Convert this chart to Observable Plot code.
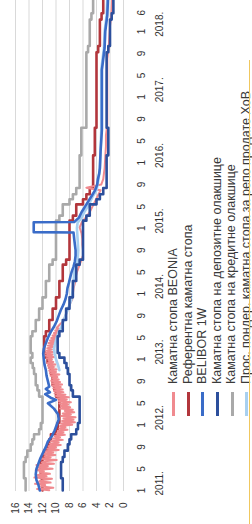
<!DOCTYPE html>
<html>
<head>
<meta charset="utf-8">
<script src="https://cdn.jsdelivr.net/npm/d3@7"></script>
<script src="https://cdn.jsdelivr.net/npm/@observablehq/plot@0.6"></script>
<style>
  html, body { margin: 0; padding: 0; background: #fff; overflow: hidden; }
  body { width: 252px; height: 524px; position: relative; }
  #wrap { position: absolute; left: 0; top: 0; width: 524px; height: 252px;
          transform-origin: 0 0; transform: translate(0px, 524px) rotate(-90deg);
          font-family: "Liberation Sans", Arial, sans-serif; }
  #legend { position: absolute; left: 0; top: 166px; width: 524px; }
  .row { height: 14.6px; line-height: 14.6px; white-space: nowrap; font-size: 12.5px; color: #3a3a3a; }
  .sw { display: inline-block; width: 24px; height: 3px; margin-left: 108px; margin-right: 8px; vertical-align: middle; }
  #edge { position: absolute; left: 0; top: 248.5px; width: 464px; height: 1.5px; background: #f0c75e; }
</style>
</head>
<body>
<div id="wrap"><div id="chart"></div><div id="legend"></div><div id="edge"></div></div>
<script>
// ---- data ----
const seriesNames = [
  "Каматна стопа BEONIA",
  "Референтна каматна стопа",
  "BELIBOR 1W",
  "Каматна стопа на депозитне олакшице",
  "Каматна стопа на кредитне олакшице",
  "Прос. пондер. каматна стопа за репо продате ХоВ"
];
const seriesColors = ["#f08a8f", "#b2363c", "#3a6cc8", "#2c4f9c", "#a9a9a9", "#a8d0f0"];

const keyDates = ["2011-01-01","2011-03-10","2011-06-09","2011-07-07","2011-08-11","2011-09-15","2011-10-13","2011-11-10","2011-12-08","2012-01-12","2012-06-07","2012-07-12","2012-08-09","2012-10-11","2012-11-13","2012-12-11","2013-01-10","2013-02-05","2013-05-09","2013-06-06","2013-08-08","2013-10-10","2013-12-12","2014-03-13","2014-06-12","2014-07-10","2015-02-12","2015-03-12","2015-05-14","2015-06-11","2015-07-09","2015-08-13","2016-02-11","2016-07-14","2017-09-07","2017-10-12","2018-03-08","2018-04-12","2018-06-30"];
const keyValues = [12.0,12.25,12.0,11.75,11.25,11.0,10.75,10.0,9.75,9.5,10.0,10.25,10.5,10.75,10.95,11.25,11.5,11.75,11.5,11.0,10.5,10.0,9.5,9.0,8.5,8.0,7.5,7.0,6.0,5.5,5.0,4.5,4.25,4.0,3.75,3.5,3.25,3.0,3.0];

const creditDates = keyDates;
const creditValues = [14.5,14.75,14.5,14.25,13.75,13.5,13.25,12.5,12.25,12.0,12.5,12.75,13.0,13.25,13.45,13.75,13.5,13.75,13.5,13.0,12.5,12.0,11.5,11.0,10.5,10.0,9.5,9.0,8.0,7.5,7.0,6.5,6.25,5.5,5.25,5.0,4.75,4.5,4.5];

const depositDates = keyDates;
const depositValues = [9.0,9.25,9.0,8.75,8.25,8.0,7.75,7.0,6.75,6.5,7.5,7.75,8.0,8.25,8.45,8.75,9.5,9.75,9.5,9.0,8.5,8.0,7.5,7.0,6.5,6.0,5.5,5.0,4.0,3.5,3.0,2.5,2.25,2.5,2.25,2.0,1.75,1.5,1.5];

// BEONIA: weekly (Mondays) 2011-01-03 .. 2013-06-24, then monthly
const beoniaWeeklyStart = "2011-01-03";
const beoniaWeeklyEnd = "2013-07-01";
const beoniaWeeklyValues = [
 11.0,12.8,10.4,12.2, 11.6,13.1,10.8,12.5, 11.9,10.6,13.2,11.4, 12.7,10.9,12.3,11.8,13.0, 10.5,12.6,11.2,12.9, 10.3,12.1,11.6,9.9,
 12.2,10.8,11.7,10.1,11.9, 10.4,11.5,9.6,11.3, 10.0,11.1,9.3,10.9, 9.6,10.7,9.0,10.5,9.4, 10.2,8.7,9.9,8.9, 9.7,8.3,9.5,8.6,9.4,
 7.6,9.3,7.2,9.1, 7.4,8.9,7.1,9.2, 7.8,9.0,7.3,8.7, 7.5,9.4,7.9,9.3,8.2, 9.5,7.8,9.6,8.4, 9.8,8.1,10.0,8.6,
 10.2,8.9,10.3,9.0,10.4, 9.3,10.5,9.1,10.6, 9.4,10.7,9.6,10.5, 9.8,10.8,9.5,10.9,10.0, 11.0,9.9,11.1,10.3, 11.2,10.1,11.3,10.4,11.1,10.6,
 11.4,10.2,11.5,10.5, 11.6,10.4,11.4,10.6, 11.3,10.3,11.2,10.2, 11.1,10.0,10.9,9.9,10.7, 9.8,10.5,9.6,10.3, 9.5,10.1,9.4,9.9];
const beoniaMonthlyDates = ["2013-07-15","2013-08-01","2013-09-01","2013-10-01","2013-11-01","2013-12-01",
 "2014-01-01","2014-02-01","2014-03-01","2014-04-01","2014-05-01","2014-06-01","2014-07-01","2014-08-01","2014-09-01","2014-10-01","2014-11-01","2014-12-01",
 "2015-01-05","2015-02-01","2015-03-01","2015-04-01","2015-05-01","2015-06-01","2015-07-01","2015-08-01","2015-08-15","2015-09-01","2015-10-01","2015-11-01","2015-12-01",
 "2016-02-01","2016-04-01","2016-06-01","2016-08-01","2016-10-01","2016-12-01","2017-02-01","2017-04-01","2017-06-01","2017-08-01","2017-10-01","2017-12-01","2018-02-01","2018-04-01","2018-06-30"];
const beoniaMonthlyValues = [9.4,8.9,8.6,8.3,8.0,7.6,
 7.5,7.4,7.2,7.1,6.9,6.6,6.3,6.0,6.0,6.1,6.1,6.2,
 6.5,6.2,5.6,5.0,4.6,4.2,3.8,3.4,5.5,3.3,3.0,2.9,2.8,
 2.7,2.6,2.6,2.4,2.4,2.4,2.4,2.4,2.4,2.4,2.2,2.1,2.0,1.8,1.7];

const beliborDates = ["2011-01-01","2011-02-01","2011-03-01","2011-04-01","2011-05-01","2011-06-01","2011-07-01","2011-08-01","2011-09-01","2011-10-01","2011-11-01","2011-12-01",
 "2012-01-01","2012-02-01","2012-03-01","2012-04-01","2012-05-01","2012-05-20","2012-06-01","2012-06-20","2012-07-01","2012-07-20","2012-08-01","2012-09-01","2012-10-01","2012-11-01","2012-12-01",
 "2013-01-01","2013-02-01","2013-03-01","2013-04-01","2013-05-01","2013-06-01","2013-07-01","2013-08-01","2013-09-01","2013-10-01","2013-11-01","2013-12-01",
 "2014-01-01","2014-02-01","2014-03-01","2014-04-01","2014-05-01","2014-06-01","2014-07-01","2014-08-01","2014-09-01","2014-10-01","2014-11-01","2014-12-08","2014-12-10","2015-02-03","2015-02-05",
 "2015-03-01","2015-04-01","2015-05-01","2015-06-01","2015-07-01","2015-08-01","2015-09-01","2015-10-01","2015-11-01","2015-12-01",
 "2016-03-01","2016-07-01","2016-12-01","2017-06-01","2017-10-01","2018-01-01","2018-04-01","2018-06-30"];
const beliborValues = [12.4,12.6,12.9,13.0,12.9,12.6,12.3,11.9,11.5,11.2,10.6,10.2,
 9.9,9.6,9.7,10.3,11.2,10.0,10.8,11.6,10.9,11.5,11.0,11.2,11.4,11.5,11.7,
 11.8,11.9,11.8,11.5,11.2,10.8,10.3,9.9,9.6,9.3,8.9,8.6,
 8.4,8.3,8.1,7.9,7.7,7.4,7.2,7.1,7.1,7.2,7.3,7.4,13.3,13.3,7.3,
 6.6,6.2,5.7,5.2,4.7,4.2,3.9,3.8,3.6,3.5,
 3.4,3.2,3.2,3.2,2.8,2.7,2.4,2.3];

const repoDates = ["2012-11-01","2012-12-01","2013-01-01","2013-02-01","2013-03-01","2013-04-01","2013-05-01","2013-06-01","2013-07-01","2013-08-01","2013-09-01","2013-10-01","2013-11-01","2013-12-01",
 "2014-01-01","2014-03-01","2014-05-01","2014-06-01","2014-07-01","2014-09-01","2014-11-01","2015-01-01","2015-02-01","2015-03-01","2015-04-01","2015-05-01","2015-06-01","2015-07-01","2015-08-01","2015-10-01","2015-12-01",
 "2016-03-01","2016-07-01","2016-12-01","2017-06-01","2017-10-01","2018-01-01","2018-04-01","2018-06-30"];
const repoValues = [9.5,9.7,10.0,10.2,10.3,10.1,9.9,9.6,9.2,8.9,8.6,8.3,8.0,7.7,
 7.6,7.4,7.3,7.0,6.8,6.7,6.8,6.9,6.8,6.2,5.8,5.3,4.9,4.5,4.0,3.7,3.5,
 3.4,3.3,3.3,3.3,2.9,2.8,2.5,2.4];

const valueTicks = [0,2,4,6,8,10,12,14,16];
const monthTickDates = ["2011-01-01","2011-05-01","2011-09-01","2012-01-01","2012-05-01","2012-09-01","2013-01-01","2013-05-01","2013-09-01","2014-01-01","2014-05-01","2014-09-01","2015-01-01","2015-05-01","2015-09-01","2016-01-01","2016-05-01","2016-09-01","2017-01-01","2017-05-01","2017-09-01","2018-01-01","2018-04-15"];
const monthTickLabels = ["1","5","9","1","5","9","1","5","9","1","5","9","1","5","9","1","5","9","1","5","9","1","6"];
const yearTickDates = ["2011-02-10","2012-02-10","2013-02-10","2014-02-10","2015-02-10","2016-02-10","2017-02-10","2018-02-10"];
const yearTickLabels = ["2011.","2012.","2013.","2014.","2015.","2016.","2017.","2018."];

// ---- build ----
const toRows = (ds, vs) => ds.map((d, i) => ({date: new Date(d), value: vs[i]}));
const weeks = d3.utcMonday.range(new Date(beoniaWeeklyStart), new Date(beoniaWeeklyEnd));
const beonia = weeks.map((d, i) => ({date: d, value: beoniaWeeklyValues[i]}))
  .concat(toRows(beoniaMonthlyDates, beoniaMonthlyValues));
const key = toRows(keyDates, keyValues);
const belibor = toRows(beliborDates, beliborValues);
const deposit = toRows(depositDates, depositValues);
const credit = toRows(creditDates, creditValues);
const repo = toRows(repoDates, repoValues);

const monthMap = new Map(monthTickDates.map((d, i) => [+new Date(d), monthTickLabels[i]]));
const yearMap = new Map(yearTickDates.map((d, i) => [+new Date(d), yearTickLabels[i]]));

const sw = 2.6;
const chart = Plot.plot({
  width: 524,
  height: 166,
  marginLeft: 33,
  marginRight: 0,
  marginTop: 15,
  marginBottom: 43,
  style: {fontFamily: "Liberation Sans, Arial, sans-serif", fontSize: "10px", color: "#333", background: "#fff"},
  x: {type: "utc", domain: [new Date("2011-01-01"), new Date("2018-06-28")]},
  y: {domain: [0, 16]},
  marks: [
    Plot.gridY(valueTicks, {stroke: "#d9d9d9", strokeOpacity: 1, strokeWidth: 1}),
    Plot.axisY(valueTicks, {tickSize: 0, tickPadding: 12, fontSize: 10, label: null}),
    Plot.axisX(monthTickDates.map(d => new Date(d)), {tickSize: 0, tickPadding: 14, fontSize: 10, label: null, tickFormat: d => monthMap.get(+d)}),
    Plot.axisX(yearTickDates.map(d => new Date(d)), {tickSize: 0, tickPadding: 32, fontSize: 10, label: null, tickFormat: d => yearMap.get(+d)}),
    Plot.line(credit, {x: "date", y: "value", curve: "step-after", stroke: seriesColors[4], strokeWidth: sw}),
    Plot.line(key, {x: "date", y: "value", curve: "step-after", stroke: seriesColors[1], strokeWidth: sw}),
    Plot.line(beonia, {x: "date", y: "value", stroke: seriesColors[0], strokeWidth: 2}),
    Plot.line(repo, {x: "date", y: "value", stroke: seriesColors[5], strokeWidth: sw}),
    Plot.line(belibor, {x: "date", y: "value", stroke: seriesColors[2], strokeWidth: sw}),
    Plot.line(deposit, {x: "date", y: "value", curve: "step-after", stroke: seriesColors[3], strokeWidth: sw})
  ]
});
document.getElementById("chart").appendChild(chart);

const legend = document.getElementById("legend");
seriesNames.forEach((name, i) => {
  const row = document.createElement("div");
  row.className = "row";
  const s = document.createElement("span");
  s.className = "sw";
  s.style.background = seriesColors[i];
  const t = document.createElement("span");
  t.textContent = name;
  row.appendChild(s);
  row.appendChild(t);
  legend.appendChild(row);
});
</script>
</body>
</html>
